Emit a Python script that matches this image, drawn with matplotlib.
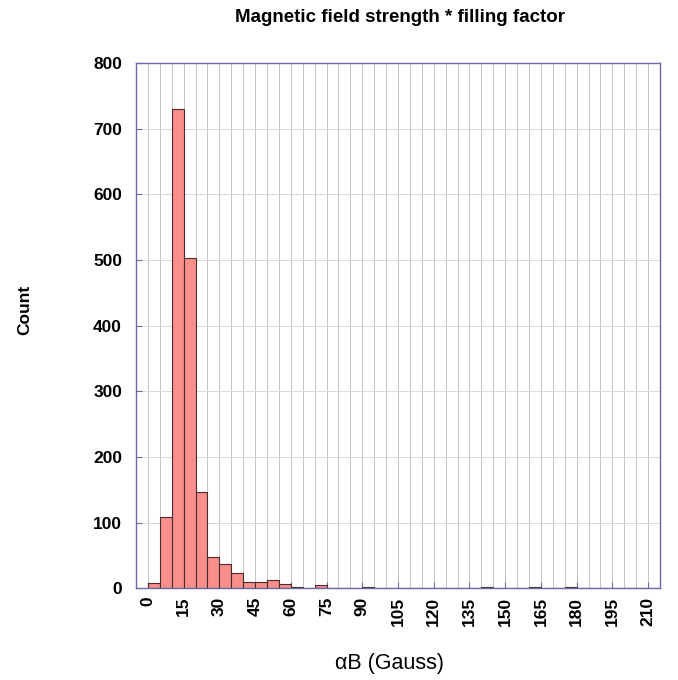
import numpy as np
import matplotlib
matplotlib.use("Agg")
import matplotlib.pyplot as plt

plt.rcParams['font.family'] = ['Liberation Sans', 'DejaVu Sans']

# histogram of alpha*B, bins of 5 Gauss starting at 0
bin_width = 5
bin_left = list(range(0, 215, 5))
counts = [8, 108, 730, 503, 147, 47, 37, 23, 10, 10,
          12, 7, 2, 1, 5, 1, 1, 1, 2, 1,
          0, 0, 0, 0, 0, 0, 0, 1, 2, 1,
          0, 1, 2, 0, 1, 2, 1, 0, 0, 0,
          0, 0, 1]

x_ticks = list(range(0, 211, 15))
y_ticks = list(range(0, 801, 100))

fig = plt.figure(figsize=(6.78, 6.8), dpi=100)
ax = fig.add_axes([0.2006, 0.135, 0.7729, 0.772])

# grid first so bars sit on top
for gx in range(-5, 216, 5):
    ax.axvline(gx, color='#c4c4c4', lw=0.7, zorder=0)
for gy in y_ticks:
    ax.axhline(gy, color='#d8d8d8', lw=0.7, zorder=0)

ax.bar(bin_left, counts, width=bin_width, align='edge',
       color='#f88f8a', edgecolor='#4a2a2a', linewidth=0.8, zorder=2)

ax.set_xlim(-5, 215)
ax.set_ylim(0, 800)
ax.set_xticks(x_ticks)
ax.set_yticks(y_ticks)
ax.tick_params(axis='x', direction='in', length=4, labelrotation=90,
               labelsize=12.5, pad=6, color='#6a6aa8')
ax.tick_params(axis='y', direction='in', length=4, labelsize=12.5, pad=10,
               color='#6a6aa8')
for lab in ax.get_xticklabels() + ax.get_yticklabels():
    lab.set_fontweight('bold')

for sp in ax.spines.values():
    sp.set_color('#6a6aa8')
    sp.set_linewidth(1.0)

fig.text(0.59, 0.975, 'Magnetic field strength * filling factor',
         ha='center', va='center', fontsize=13.5, fontweight='bold')
fig.text(0.037, 0.544, 'Count', rotation=90, ha='center', va='center',
         fontsize=12.5, fontweight='bold')
fig.text(0.575, 0.025, 'αB (Gauss)', ha='center', va='center',
         fontsize=15.5)

fig.savefig('out.png', dpi=100)
